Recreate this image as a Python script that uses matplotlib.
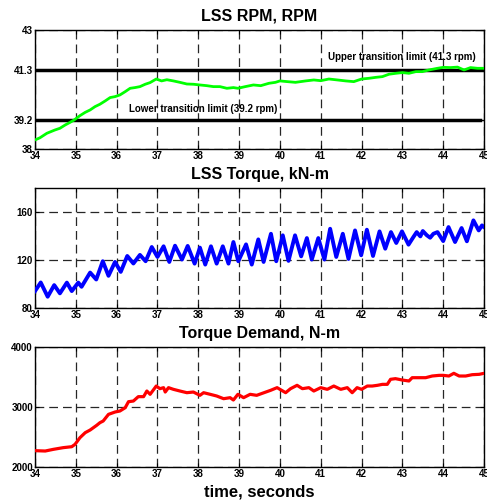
import matplotlib
matplotlib.use("Agg")
import matplotlib.pyplot as plt


plt.rcParams["font.family"] = ["Liberation Sans", "DejaVu Sans"]
plt.rcParams["font.weight"] = "bold"


# LSS speed, rpm
RPM_T = [34.0, 34.12, 34.29, 34.49, 34.61, 34.74, 34.86, 34.96, 35.10, 35.23,
         35.35, 35.47, 35.59, 35.72, 35.84, 35.96, 36.08, 36.21, 36.33, 36.45,
         36.57, 36.70, 36.82, 36.97, 37.10, 37.23, 37.39, 37.55, 37.72, 37.88,
         38.04, 38.21, 38.37, 38.53, 38.70, 38.86, 38.97, 39.15, 39.35, 39.53,
         39.73, 39.89, 40.0, 40.18, 40.38, 40.63, 40.83, 41.0, 41.20, 41.41,
         41.61, 41.81, 42.0, 42.18, 42.35, 42.51, 42.67, 42.84, 43.0, 43.16,
         43.33, 43.49, 43.65, 43.86, 44.0, 44.18, 44.35, 44.51, 44.67, 44.84,
         45.0]
RPM = [38.38, 38.47, 38.66, 38.80, 38.87, 39.01, 39.12, 39.22, 39.40, 39.54,
       39.64, 39.78, 39.88, 40.02, 40.16, 40.20, 40.27, 40.41, 40.55, 40.58,
       40.62, 40.72, 40.79, 40.94, 40.86, 40.91, 40.86, 40.80, 40.73, 40.72,
       40.69, 40.66, 40.62, 40.62, 40.55, 40.58, 40.55, 40.62, 40.69, 40.66,
       40.76, 40.80, 40.86, 40.83, 40.80, 40.86, 40.90, 40.87, 40.94, 40.90,
       40.86, 40.83, 40.94, 40.97, 41.01, 41.04, 41.14, 41.18, 41.21, 41.18,
       41.25, 41.25, 41.32, 41.39, 41.43, 41.42, 41.44, 41.32, 41.42, 41.39,
       41.39]

UPPER_LIMIT = 41.3
LOWER_LIMIT = 39.2

# LSS torque, kN-m
TORQUE_T = [34.0, 34.14, 34.31, 34.47, 34.61, 34.78, 34.90, 35.06, 35.14, 35.35,
            35.50, 35.66, 35.80, 35.96, 36.10, 36.26, 36.41, 36.57, 36.71, 36.86,
            37.0, 37.15, 37.29, 37.43, 37.60, 37.74, 37.91, 38.04, 38.17, 38.31,
            38.45, 38.60, 38.74, 38.86, 38.98, 39.17, 39.31, 39.47, 39.60, 39.78,
            39.91, 40.07, 40.21, 40.37, 40.52, 40.66, 40.78, 40.94, 41.09, 41.23,
            41.38, 41.54, 41.68, 41.84, 41.99, 42.13, 42.28, 42.44, 42.58, 42.72,
            42.85, 42.99, 43.15, 43.27, 43.35, 43.44, 43.50, 43.60, 43.68, 43.76,
            43.86, 44.0, 44.13, 44.29, 44.45, 44.58, 44.74, 44.87, 44.95, 45.0]
TORQUE = [93.9, 101.1, 89.2, 98.9, 92.0, 101.0, 93.9, 101.0, 97.5, 109.4,
          103.6, 118.9, 106.7, 118.3, 110.0, 123.3, 117.0, 124.2, 118.9, 130.8,
          122.5, 131.4, 118.3, 131.9, 120.3, 131.7, 116.9, 130.3, 116.1, 131.4,
          116.9, 131.4, 116.9, 135.0, 118.9, 133.0, 116.1, 137.2, 118.3, 141.9,
          118.9, 140.6, 119.2, 140.6, 123.0, 138.3, 120.3, 138.3, 120.3, 146.1,
          122.5, 141.9, 120.8, 144.7, 123.9, 145.3, 123.3, 143.9, 129.4, 143.3,
          134.2, 143.9, 132.8, 139.2, 143.3, 139.7, 144.2, 140.6, 138.6, 141.9,
          143.3, 135.8, 147.5, 135.0, 146.7, 135.6, 153.1, 144.7, 148.9, 147.5]

# Torque demand, N-m
DEMAND_T = [34.0, 34.25, 34.45, 34.69, 34.90, 34.98, 35.10, 35.23, 35.35, 35.51,
            35.59, 35.67, 35.80, 35.96, 36.08, 36.21, 36.29, 36.41, 36.53, 36.66,
            36.74, 36.82, 36.97, 37.06, 37.15, 37.19, 37.27, 37.39, 37.55, 37.72,
            37.88, 38.04, 38.13, 38.29, 38.45, 38.62, 38.78, 38.86, 38.97, 39.11,
            39.27, 39.43, 39.61, 39.77, 39.93, 40.0, 40.14, 40.26, 40.42, 40.55,
            40.71, 40.83, 41.0, 41.16, 41.32, 41.49, 41.65, 41.77, 41.89, 42.0,
            42.14, 42.26, 42.39, 42.51, 42.63, 42.71, 42.83, 43.0, 43.16, 43.24,
            43.40, 43.57, 43.73, 43.90, 44.0, 44.14, 44.26, 44.39, 44.55, 44.71,
            44.88, 45.0]
DEMAND = [2267, 2261, 2289, 2317, 2333, 2372, 2483, 2567, 2611, 2689,
          2733, 2761, 2872, 2911, 2928, 2983, 3083, 3094, 3167, 3167,
          3261, 3206, 3344, 3300, 3317, 3244, 3317, 3289, 3261, 3233,
          3244, 3189, 3233, 3206, 3178, 3133, 3150, 3111, 3206, 3150,
          3206, 3189, 3233, 3272, 3317, 3289, 3233, 3300, 3356, 3300,
          3317, 3261, 3317, 3289, 3344, 3289, 3317, 3233, 3317, 3289,
          3344, 3344, 3356, 3372, 3372, 3456, 3467, 3444, 3428, 3483,
          3483, 3483, 3511, 3522, 3522, 3511, 3556, 3511, 3511, 3533,
          3539, 3556]

X_TICKS = list(range(34, 46))
RPM_TICKS = [38, 39.2, 41.3, 43]
RPM_TICK_LABELS = ["38", "39.2", "41.3", "43"]
TORQUE_TICKS = [80, 120, 160]
DEMAND_TICKS = [2000, 3000, 4000]

_GRID_STYLE = dict(color="0.15", linewidth=0.9, linestyle=(0, (7, 4)))


def _set_up(axes, title, y_lim, y_ticks, y_tick_labels=None):
    axes.set_xlim(34, 45)
    axes.set_ylim(*y_lim)
    axes.set_xticks(X_TICKS)
    axes.set_yticks(y_ticks)
    if y_tick_labels is not None:
        axes.set_yticklabels(y_tick_labels)
    axes.set_title(title, fontsize=11.5, fontweight="bold", pad=6.5)
    axes.grid(True, **_GRID_STYLE)
    axes.tick_params(direction="in", length=3, width=0.8, labelsize=7,
                     top=True, right=True, pad=1.5)
    for spine in axes.spines.values():
        spine.set_linewidth(1.0)


fig = plt.figure(figsize=(4.87, 5.03), dpi=100)
ax_rpm = fig.add_axes([0.0719, 0.7038, 0.922, 0.2366])
ax_torque = fig.add_axes([0.0719, 0.3883, 0.922, 0.2374])
ax_demand = fig.add_axes([0.0719, 0.0722, 0.922, 0.2386])

_set_up(ax_rpm, "LSS RPM, RPM", (38, 43), RPM_TICKS, RPM_TICK_LABELS)
ax_rpm.plot([34, 45], [UPPER_LIMIT, UPPER_LIMIT], color="k", lw=2.5, zorder=3)
ax_rpm.plot([34, 44.9], [LOWER_LIMIT, LOWER_LIMIT], color="k", lw=2.5, zorder=3)
ax_rpm.plot(RPM_T, RPM, color="#00ff00", lw=2.0, zorder=4)
ax_rpm.text(41.18, 41.87, f"Upper transition limit ({UPPER_LIMIT} rpm)",
            fontsize=7, fontweight="bold", va="center")
ax_rpm.text(36.3, 39.68, f"Lower transition limit ({LOWER_LIMIT} rpm)",
            fontsize=7, fontweight="bold", va="center")

_set_up(ax_torque, "LSS Torque, kN-m", (80, 180), TORQUE_TICKS)
ax_torque.plot(TORQUE_T, TORQUE, color="#0000ff", lw=2.8, zorder=4,
               solid_joinstyle="round")

_set_up(ax_demand, "Torque Demand, N-m", (2000, 4000), DEMAND_TICKS)
ax_demand.plot(DEMAND_T, DEMAND, color="#ff0000", lw=2.3, zorder=4)
ax_demand.set_xlabel("time, seconds", fontsize=12, fontweight="bold",
                     labelpad=4)

fig.savefig("out.png", dpi=100)
